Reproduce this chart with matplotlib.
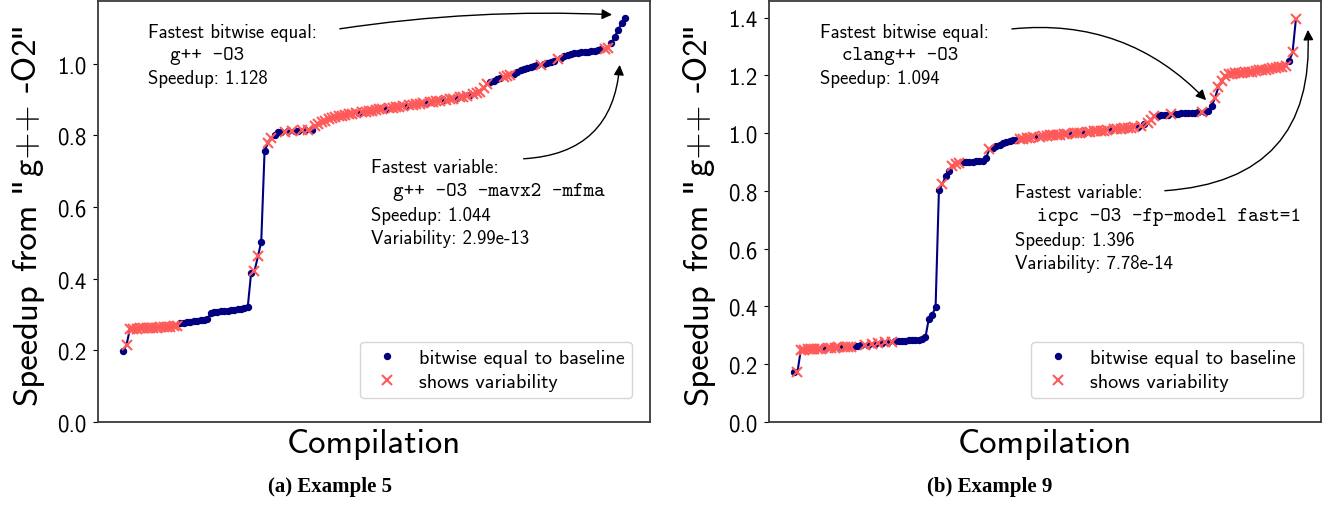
import numpy as np
import matplotlib
matplotlib.use('Agg')
import matplotlib.pyplot as plt

plt.rcParams['axes.unicode_minus'] = False

# example 5: sorted speedups, 1 = shows variability, 0 = bitwise equal
speedup_5 = [
    0.199, 0.215, 0.259, 0.260, 0.260, 0.261, 0.261, 0.262, 0.262, 0.263,
    0.263, 0.264, 0.265, 0.265, 0.266, 0.267, 0.268, 0.275, 0.277, 0.279,
    0.280, 0.282, 0.283, 0.284, 0.285, 0.287, 0.303, 0.306, 0.308, 0.309,
    0.310, 0.311, 0.312, 0.313, 0.314, 0.315, 0.317, 0.321, 0.416, 0.421,
    0.462, 0.502, 0.757, 0.778, 0.792, 0.801, 0.808, 0.809, 0.810, 0.811,
    0.812, 0.812, 0.813, 0.814, 0.814, 0.815, 0.816, 0.826, 0.831, 0.836,
    0.840, 0.844, 0.848, 0.851, 0.853, 0.855, 0.857, 0.858, 0.860, 0.861,
    0.863, 0.864, 0.866, 0.867, 0.869, 0.870, 0.872, 0.873, 0.874, 0.876,
    0.877, 0.878, 0.880, 0.881, 0.882, 0.884, 0.885, 0.886, 0.888, 0.889,
    0.891, 0.892, 0.893, 0.895, 0.896, 0.897, 0.899, 0.900, 0.902, 0.904,
    0.906, 0.908, 0.910, 0.912, 0.915, 0.918, 0.922, 0.932, 0.942, 0.948,
    0.952, 0.956, 0.959, 0.962, 0.965, 0.968, 0.972, 0.977, 0.982, 0.986,
    0.989, 0.991, 0.993, 0.995, 0.997, 0.999, 1.001, 1.004, 1.008, 1.012,
    1.016, 1.020, 1.024, 1.027, 1.029, 1.030, 1.031, 1.032, 1.033, 1.034,
    1.036, 1.038, 1.040, 1.042, 1.044, 1.058, 1.075, 1.095, 1.112, 1.128,
]
variable_5 = [
    0, 1, 1, 1, 1, 1, 1, 1, 1, 1,
    1, 1, 1, 1, 1, 1, 1, 0, 0, 0,
    0, 0, 0, 0, 0, 0, 0, 0, 0, 0,
    0, 0, 0, 0, 0, 0, 0, 0, 0, 1,
    1, 0, 0, 1, 1, 0, 0, 0, 1, 0,
    1, 0, 0, 1, 0, 1, 0, 1, 1, 1,
    1, 1, 1, 1, 1, 1, 1, 1, 1, 1,
    0, 1, 1, 1, 1, 1, 1, 1, 0, 1,
    1, 1, 1, 1, 0, 1, 1, 1, 1, 1,
    0, 1, 1, 1, 1, 0, 1, 1, 1, 0,
    1, 1, 1, 0, 1, 1, 1, 1, 1, 0,
    0, 0, 0, 1, 1, 1, 0, 0, 0, 0,
    0, 0, 0, 0, 1, 0, 0, 0, 0, 1,
    0, 0, 0, 0, 0, 0, 0, 0, 0, 0,
    0, 0, 0, 1, 1, 0, 0, 0, 0, 0,
]

# example 9
speedup_9 = [
    0.172, 0.174, 0.250, 0.251, 0.252, 0.252, 0.253, 0.253, 0.254, 0.255,
    0.255, 0.256, 0.257, 0.258, 0.258, 0.259, 0.260, 0.261, 0.263, 0.264,
    0.265, 0.266, 0.267, 0.269, 0.271, 0.273, 0.274, 0.276, 0.277, 0.278,
    0.279, 0.280, 0.281, 0.282, 0.283, 0.283, 0.284, 0.285, 0.287, 0.294,
    0.358, 0.372, 0.397, 0.803, 0.823, 0.850, 0.870, 0.886, 0.893, 0.898,
    0.900, 0.900, 0.901, 0.901, 0.902, 0.903, 0.904, 0.915, 0.945, 0.950,
    0.955, 0.960, 0.965, 0.970, 0.973, 0.975, 0.977, 0.979, 0.981, 0.982,
    0.984, 0.985, 0.987, 0.988, 0.990, 0.991, 0.992, 0.993, 0.994, 0.995,
    0.996, 0.997, 0.998, 0.999, 1.000, 1.001, 1.002, 1.003, 1.004, 1.006,
    1.007, 1.008, 1.009, 1.010, 1.011, 1.013, 1.014, 1.015, 1.016, 1.018,
    1.019, 1.021, 1.022, 1.024, 1.030, 1.036, 1.045, 1.058, 1.060, 1.061,
    1.062, 1.063, 1.066, 1.066, 1.067, 1.068, 1.069, 1.070, 1.071, 1.071,
    1.072, 1.072, 1.074, 1.078, 1.094, 1.123, 1.160, 1.180, 1.197, 1.203,
    1.205, 1.207, 1.208, 1.209, 1.211, 1.212, 1.213, 1.215, 1.217, 1.218,
    1.220, 1.222, 1.224, 1.226, 1.228, 1.230, 1.234, 1.250, 1.280, 1.396,
]
variable_9 = [
    0, 1, 1, 1, 1, 1, 1, 1, 1, 0,
    1, 1, 1, 1, 0, 1, 1, 1, 0, 0,
    0, 1, 0, 1, 0, 1, 0, 1, 0, 1,
    0, 0, 0, 0, 0, 0, 0, 0, 0, 0,
    0, 0, 0, 0, 1, 0, 0, 1, 1, 1,
    0, 0, 0, 0, 0, 0, 0, 0, 1, 0,
    0, 0, 0, 0, 0, 0, 0, 1, 1, 1,
    1, 1, 0, 1, 1, 1, 1, 1, 1, 1,
    1, 1, 0, 1, 1, 1, 0, 1, 1, 1,
    1, 1, 1, 1, 0, 1, 1, 1, 1, 1,
    1, 1, 0, 1, 0, 1, 1, 1, 0, 0,
    0, 0, 1, 0, 0, 0, 0, 0, 0, 0,
    0, 1, 0, 0, 0, 1, 1, 1, 1, 1,
    1, 1, 1, 1, 1, 1, 1, 1, 1, 1,
    1, 1, 1, 1, 1, 1, 1, 0, 1, 1,
]

bitwise_text = [('g++ -O3', '1.128'), ('clang++ -O3', '1.094')]
variable_text = [('g++ -O3 -mavx2 -mfma', '1.044', '2.99e-13'),
                 ('icpc -O3 -fp-model fast=1', '1.396', '7.78e-14')]
captions = ['(a) Example 5', '(b) Example 9']

NAVY = '#000080'
RED = '#ff5a5a'
SANS = 'cmss10'
MONO = 'cmtt10'
QUOTE = 'DejaVu Sans'   # cmss10 draws " as a curly quote, the figure has straight ones


def draw_panel(ax, speedup, variable):
    speedup = np.array(speedup)
    variable = np.array(variable, dtype=bool)
    idx = np.arange(len(speedup))

    ax.plot(idx, speedup, color=NAVY, lw=1.5, zorder=1)
    ax.plot(idx[~variable], speedup[~variable], 'o', color=NAVY, ms=4.3,
            label='bitwise equal to baseline', zorder=2)
    ax.plot(idx[variable], speedup[variable], 'x', color=RED, ms=7.5, mew=1.5,
            label='shows variability', zorder=3)

    ax.set_ylim(bottom=0)
    ax.set_xticks([])
    ax.tick_params(axis='y', pad=5)
    ax.set_xlabel('Compilation', fontsize=25, family=SANS)
    for lab in ax.get_yticklabels():
        lab.set_family(SANS)
        lab.set_fontsize(16.5)
    for s in ax.spines.values():
        s.set_color('#3a3a3a')
        s.set_linewidth(1.3)

    leg = ax.legend(loc='lower right', bbox_to_anchor=(0.967, 0.057),
                    borderaxespad=0, prop={'family': SANS, 'size': 14.5},
                    handletextpad=0.6, labelspacing=0.3, borderpad=0.35)
    return leg


def add_ylabel(fig, ax, size=25, offset=62):
    # y label built from pieces so the quotes can come from another font
    r = fig.canvas.get_renderer()
    W, H = fig.bbox.width, fig.bbox.height

    def width(s, fam):
        t = fig.text(0, 0, s, fontsize=size, family=fam)
        w = t.get_window_extent(r).width
        t.remove()
        return w

    space = width('a a', SANS) - width('aa', SANS)
    pieces = [('Speedup', SANS, space), ('from', SANS, space),
              ('"', QUOTE, 1), ('g++', SANS, space), ('-O2', SANS, 1),
              ('"', QUOTE, 0)]
    widths = [width(s, f) for s, f, _ in pieces]
    total = sum(widths) + sum(g for _, _, g in pieces)
    bb = ax.get_window_extent(r)
    x = bb.x0 - offset
    y = (bb.y0 + bb.y1) / 2 - total / 2
    for (s, fam, gap), w in zip(pieces, widths):
        fig.text(x / W, y / H, s, fontsize=size, family=fam, rotation=90,
                 rotation_mode='anchor', ha='left', va='baseline')
        y += w + gap


def add_notes(ax, bw, var, pos):
    # pos: text anchors and arrow tips (axes fraction / data)
    kw = dict(transform=ax.transAxes, ha='left', va='center')
    x1, y1, x2, y2 = pos['text']
    ax.text(x1, y1, 'Fastest bitwise equal:', family=SANS, fontsize=13.5, **kw)
    ax.text(x1 + 0.04, y1 - 0.055, bw[0], family=MONO, fontsize=14.5, **kw)
    ax.text(x1, y1 - 0.11, 'Speedup: ' + bw[1], family=SANS, fontsize=13.5, **kw)
    ax.text(x2, y2, 'Fastest variable:', family=SANS, fontsize=13.5, **kw)
    ax.text(x2 + 0.04, y2 - 0.057, var[0], family=MONO, fontsize=14.5, **kw)
    ax.text(x2, y2 - 0.114, 'Speedup: ' + var[1], family=SANS, fontsize=13.5, **kw)
    ax.text(x2, y2 - 0.17, 'Variability: ' + var[2], family=SANS, fontsize=13.5, **kw)

    for start, tip, rad in pos['arrows']:
        ax.annotate('', xy=tip, xycoords='data', xytext=start,
                    textcoords='axes fraction',
                    arrowprops=dict(arrowstyle='-|>', color='black', lw=1,
                                    mutation_scale=15,
                                    connectionstyle='arc3,rad=%s' % rad))


fig = plt.figure(figsize=(13.25, 5.06), dpi=100)
ax_a = fig.add_axes([0.074, 0.164, 0.4166, 0.832])
ax_b = fig.add_axes([0.5804, 0.164, 0.4166, 0.832])

draw_panel(ax_a, speedup_5, variable_5)
draw_panel(ax_b, speedup_9, variable_9)
add_ylabel(fig, ax_a)
add_ylabel(fig, ax_b)

add_notes(ax_a, bitwise_text[0], variable_text[0], {
    'text': (0.0906, 0.927, 0.4946, 0.606),
    'arrows': [((0.433, 0.933), (146.0, 1.136), -0.05),
               ((0.766, 0.625), (147.5, 1.004), 0.45)],
})
add_notes(ax_b, bitwise_text[1], variable_text[1], {
    'text': (0.0924, 0.927, 0.4457, 0.547),
    'arrows': [((0.435, 0.933), (122.9, 1.107), -0.25),
               ((0.712, 0.549), (152.5, 1.367), 0.5)],
})

fig.text(0.249, 0.038, captions[0], ha='center', va='center', fontsize=15,
         fontweight='bold', family='Liberation Serif')
fig.text(0.747, 0.038, captions[1], ha='center', va='center', fontsize=15,
         fontweight='bold', family='Liberation Serif')

fig.savefig('out.png', dpi=100)
